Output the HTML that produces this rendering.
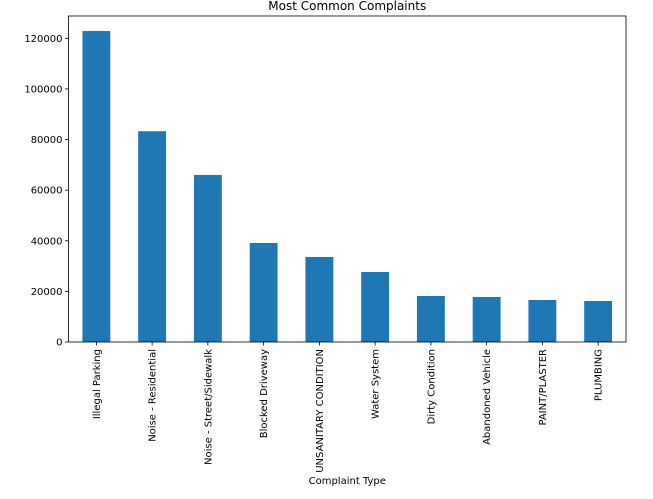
<!DOCTYPE html>
<html><head><meta charset="utf-8"><style>
body{margin:0;background:#fff;}
svg{display:block;font-family:"DejaVu Sans","Liberation Sans",sans-serif;}
</style></head><body>
<svg id="chart" width="653" height="499"></svg>
<script>
const categories=["Illegal Parking","Noise - Residential","Noise - Street/Sidewalk","Blocked Driveway","UNSANITARY CONDITION","Water System","Dirty Condition","Abandoned Vehicle","PAINT/PLASTER","PLUMBING"];
const values=[122900,83280,66000,39130,33600,27670,18180,17790,16600,16200];
const yTicks=[0,20000,40000,60000,80000,100000,120000];
const NS="http://www.w3.org/2000/svg";
const svg=document.getElementById('chart');
const L=68.5,R=626,T=16,B=342;
const slot=(R-L)/categories.length;
function x(i){return L+slot*(i+0.5);}
function y(v){return B-v*(B-38.3)/120000;}
function mk(tag,attrs,text){const e=document.createElementNS(NS,tag);for(const k in attrs)e.setAttribute(k,attrs[k]);if(text!==undefined)e.textContent=text;svg.appendChild(e);return e;}
const title=mk('text',{x:(L+R)/2,y:10,'text-anchor':'middle','font-size':12},'Most Common Complaints');


categories.forEach((c,i)=>{
  const r=mk('rect',{x:x(i)-slot/4,y:y(values[i]),width:slot/2,height:B-y(values[i]),fill:'#1f77b4'});
  
  
  mk('line',{x1:x(i),x2:x(i),y1:B,y2:B+3.5,stroke:'#000','stroke-width':0.8});
  const t=mk('text',{transform:`translate(${x(i)+3.5},${B+7}) rotate(-90)`,'text-anchor':'end','font-size':10},c);
  
  
});
yTicks.forEach(v=>{
  mk('line',{x1:L-3.5,x2:L,y1:y(v),y2:y(v),stroke:'#000','stroke-width':0.8});
  const t=mk('text',{x:L-6,y:y(v)+3.5,'text-anchor':'end','font-size':10},String(v));
  
  
});
const frame=mk('rect',{x:L,y:T,width:R-L,height:B-T,fill:'none',stroke:'#000','stroke-width':0.8});


const xt=mk('text',{x:(L+R)/2,y:484,'text-anchor':'middle','font-size':10},'Complaint Type');


</script>
</body></html>
